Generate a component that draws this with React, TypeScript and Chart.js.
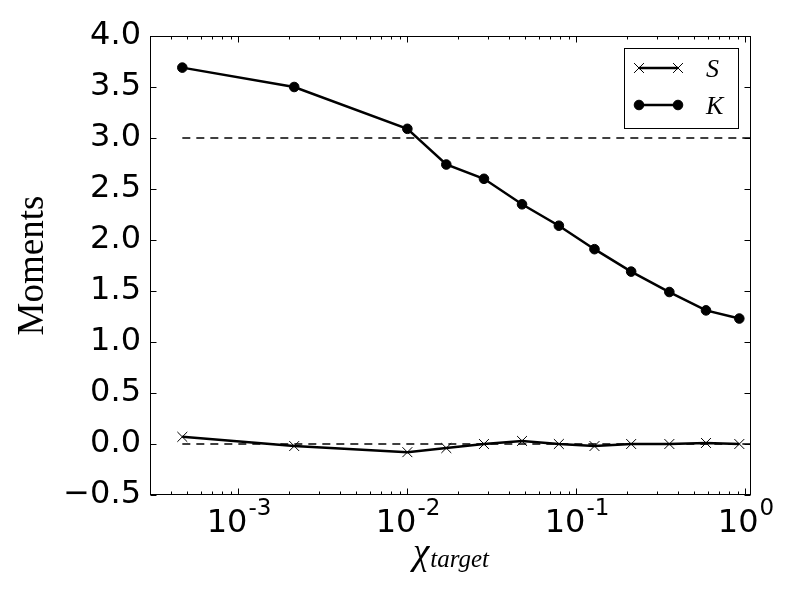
import React, { useEffect, useRef } from 'react';
import { Chart, registerables } from 'chart.js';
import { drawPoint } from 'chart.js/helpers';

Chart.register(...registerables);

// values
const xTarget = [0.000466, 0.00214, 0.01, 0.017, 0.0284, 0.0477, 0.0788, 0.128, 0.211, 0.355, 0.585, 0.921];
const skewness = [0.07, -0.02, -0.08, -0.04, 0.0, 0.03, 0.0, -0.02, 0.0, 0.0, 0.01, 0.0];
const kurtosis = [3.69, 3.5, 3.09, 2.74, 2.6, 2.35, 2.14, 1.91, 1.69, 1.49, 1.31, 1.23];
const seriesNames = ['S', 'K'];
const referenceLevels = [3.0, 0.0];

const yTicks = [-0.5, 0.0, 0.5, 1.0, 1.5, 2.0, 2.5, 3.0, 3.5, 4.0];
const xMajorTicks = [1e-3, 1e-2, 1e-1, 1e0];
const xTickExponents = ['-3', '-2', '-1', '0'];
const xMin = 3.0e-4;
const xMax = 1.08;

const SANS = '"DejaVu Sans", sans-serif';
const SERIF = '"Liberation Serif", "DejaVu Serif", serif';

// matplotlib-like frame, inward ticks, axis labels and legend
const mplPlugin = {
  id: 'mplPlugin',
  afterDraw(chart: any) {
    const { ctx, chartArea: a } = chart;
    const xs = chart.scales.x;
    const ys = chart.scales.y;
    const L = Math.round(a.left) + 0.5;
    const R = Math.round(a.right) - 0.5;
    const T = Math.round(a.top) + 0.5;
    const B = Math.round(a.bottom) - 0.5;

    ctx.save();
    ctx.strokeStyle = '#000';
    ctx.fillStyle = '#000';
    ctx.lineWidth = 1;

    const seg = (x1: number, y1: number, x2: number, y2: number) => {
      ctx.beginPath();
      ctx.moveTo(x1, y1);
      ctx.lineTo(x2, y2);
      ctx.stroke();
    };

    // y ticks, left and right
    yTicks.forEach((v) => {
      const py = Math.round(ys.getPixelForValue(v)) + 0.5;
      seg(L, py, L + 6, py);
      seg(R, py, R - 6, py);
    });

    // x minor ticks
    for (let e = -4; e <= 0; e++) {
      for (let m = 2; m <= 9; m++) {
        const v = m * Math.pow(10, e);
        if (v <= xMin || v >= xMax) continue;
        const px = Math.round(xs.getPixelForValue(v)) + 0.5;
        seg(px, B, px, B - 3);
        seg(px, T, px, T + 3);
      }
    }
    // x major ticks and labels
    xMajorTicks.forEach((v, i) => {
      const px = Math.round(xs.getPixelForValue(v)) + 0.5;
      seg(px, B, px, B - 6);
      seg(px, T, px, T + 6);

      ctx.textBaseline = 'alphabetic';
      ctx.textAlign = 'left';
      ctx.font = `32px ${SANS}`;
      const wBase = ctx.measureText('10').width;
      ctx.font = `23px ${SANS}`;
      const wExp = ctx.measureText(xTickExponents[i]).width;
      const x0 = px - (wBase + wExp) / 2;
      ctx.font = `32px ${SANS}`;
      ctx.fillText('10', x0, a.bottom + 37);
      ctx.font = `23px ${SANS}`;
      ctx.fillText(xTickExponents[i], x0 + wBase + 1, a.bottom + 20);
    });

    // frame
    ctx.strokeRect(L, T, R - L, B - T);

    // x axis title: chi with subscript "target"
    ctx.font = `italic 37px ${SERIF}`;
    const wChi = ctx.measureText('χ').width;
    ctx.font = `italic 25px ${SERIF}`;
    const wSub = ctx.measureText('target').width;
    const cx = (a.left + a.right) / 2;
    const sx = cx - (wChi + wSub) / 2;
    ctx.font = `italic 37px ${SERIF}`;
    ctx.fillText('χ', sx, 564);
    ctx.font = `italic 25px ${SERIF}`;
    ctx.fillText('target', sx + wChi + 1, 567);

    // y axis title
    ctx.save();
    ctx.translate(43, (a.top + a.bottom) / 2);
    ctx.rotate(-Math.PI / 2);
    ctx.textAlign = 'center';
    ctx.font = `37px ${SERIF}`;
    ctx.fillText('Moments', 0, 0);
    ctx.restore();

    // legend
    const boxR = a.right - 13;
    const boxL = boxR - 114;
    const boxT = a.top + 12;
    ctx.strokeRect(Math.round(boxL) + 0.5, Math.round(boxT) + 0.5, 114, 80);
    const entries = chart.data.datasets.filter((d: any) => seriesNames.includes(d.label));
    entries.forEach((d: any, i: number) => {
      const ly = boxT + 20 + i * 37;
      const x1 = boxL + 15;
      const x2 = boxL + 54;
      ctx.strokeStyle = d.borderColor;
      ctx.lineWidth = d.borderWidth;
      seg(x1, ly, x2, ly);
      ctx.fillStyle = d.pointBackgroundColor;
      ctx.strokeStyle = d.pointBorderColor;
      ctx.lineWidth = d.pointBorderWidth;
      const opts = { pointStyle: d.pointStyle, radius: d.pointRadius, rotation: 0, borderWidth: d.pointBorderWidth };
      drawPoint(ctx, opts, x1, ly);
      drawPoint(ctx, opts, x2, ly);
      ctx.fillStyle = '#000';
      ctx.font = `italic 26px ${SERIF}`;
      ctx.textAlign = 'left';
      ctx.textBaseline = 'alphabetic';
      ctx.fillText(d.label, boxL + 82, ly + 9);
    });

    ctx.restore();
  },
};

const App: React.FC = () => {
  const ref = useRef<HTMLCanvasElement>(null);

  useEffect(() => {
    if (!ref.current) return;

    const refLines = referenceLevels.map((lvl) => ({
      label: `ref ${lvl}`,
      data: [
        { x: xTarget[0], y: lvl },
        { x: xMax * 1.2, y: lvl },
      ],
      borderColor: '#000',
      borderWidth: 1.5,
      borderDash: [8, 6],
      pointRadius: 0,
      order: 5,
    }));

    const chart = new Chart(ref.current, {
      type: 'line',
      data: {
        datasets: [
          ...refLines,
          {
            label: seriesNames[0],
            data: xTarget.map((x, i) => ({ x, y: skewness[i] })),
            borderColor: '#000',
            borderWidth: 2.5,
            pointStyle: 'crossRot',
            pointRadius: 7,
            pointBorderWidth: 1,
            pointBorderColor: '#000',
            pointBackgroundColor: '#000',
            order: 2,
          },
          {
            label: seriesNames[1],
            data: xTarget.map((x, i) => ({ x, y: kurtosis[i] })),
            borderColor: '#000',
            borderWidth: 2.5,
            pointStyle: 'circle',
            pointRadius: 4.8,
            pointBorderWidth: 1,
            pointBorderColor: '#000',
            pointBackgroundColor: '#000',
            order: 1,
          },
        ],
      },
      options: {
        animation: false,
        responsive: true,
        maintainAspectRatio: false,
        events: [],
        layout: { padding: { top: 36, right: 49, left: 0, bottom: 0 } },
        plugins: {
          legend: { display: false },
          tooltip: { enabled: false },
        },
        scales: {
          x: {
            type: 'logarithmic',
            min: xMin,
            max: xMax,
            bounds: 'data',
            grid: { display: false },
            border: { display: false },
            ticks: { display: false },
            afterFit: (scale: any) => {
              scale.height = 105;
            },
          },
          y: {
            type: 'linear',
            min: -0.5,
            max: 4.0,
            grid: { display: false, drawTicks: false },
            border: { display: false },
            afterBuildTicks: (scale: any) => {
              scale.ticks = yTicks.map((value) => ({ value }));
            },
            ticks: {
              padding: 9,
              color: '#000',
              font: { family: SANS, size: 32 },
              callback: (v: any) => Number(v).toFixed(1).replace('-', '\u2212'),
            },
            afterFit: (scale: any) => {
              scale.width = 150;
            },
          },
        },
      },
      plugins: [mplPlugin],
    });

    return () => {
      chart.destroy();
    };
  }, []);

  return (
    <div style={{ position: 'fixed', left: 0, top: 0, width: 800, height: 600, background: '#fff' }}>
      <canvas ref={ref}></canvas>
    </div>
  );
};

export default App;
